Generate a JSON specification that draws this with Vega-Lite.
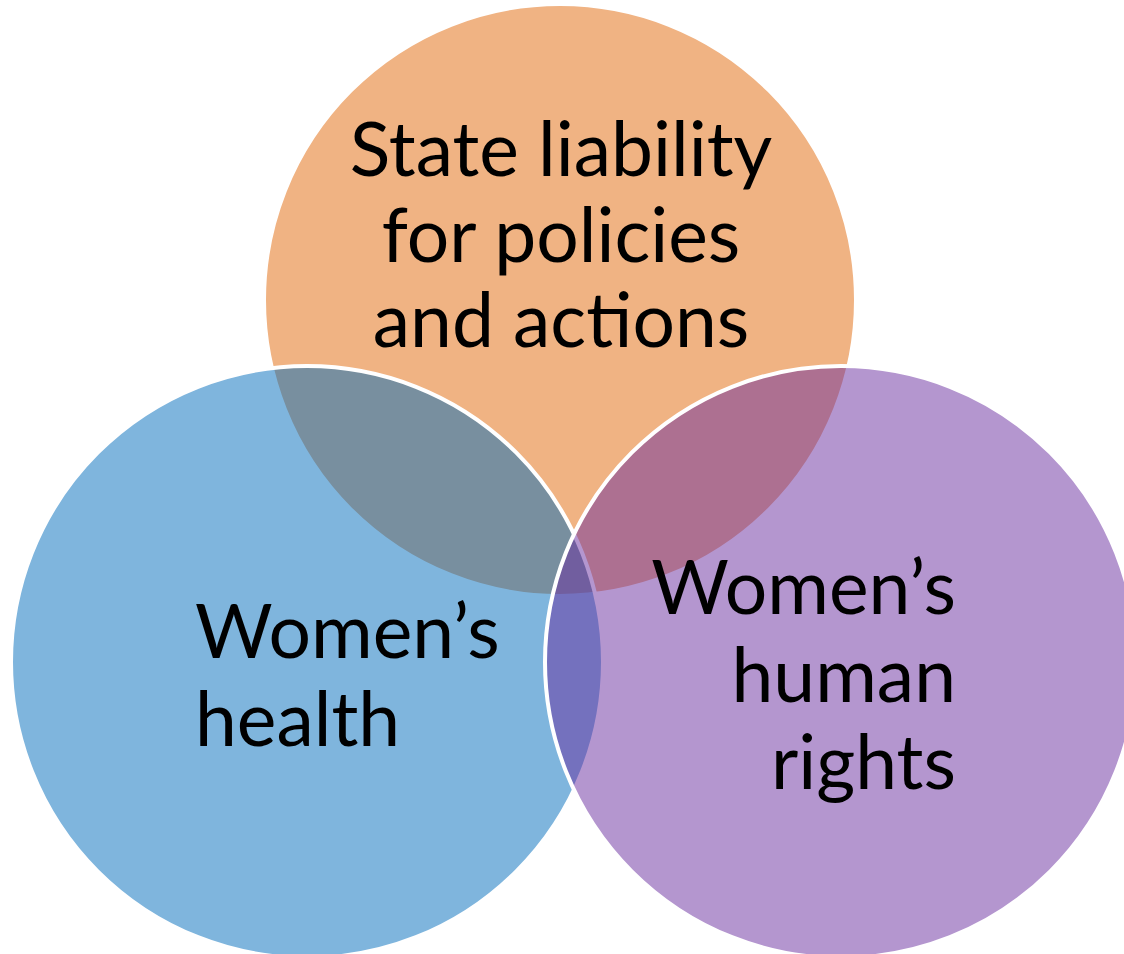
{
  "$schema": "https://vega.github.io/schema/vega-lite/v6.json",
  "width": 1124,
  "height": 954,
  "padding": 0,
  "autosize": {"type": "none"},
  "background": "white",
  "config": {"view": {"stroke": null}},
  "datasets": {
    "circles": [
      {"set": "State liability", "cx": 560, "cy": 300},
      {"set": "Women's health", "cx": 307, "cy": 662},
      {"set": "Women's human rights", "cx": 841, "cy": 662}
    ],
    "labels": [
      {"text": "State liability", "x": 561, "y": 176, "anchor": "center"},
      {"text": "for policies", "x": 561, "y": 262, "anchor": "center"},
      {"text": "and actions", "x": 561, "y": 347, "anchor": "center"},
      {"text": "Women’s", "x": 195, "y": 658, "anchor": "left"},
      {"text": "health", "x": 195, "y": 746, "anchor": "left"},
      {"text": "Women’s", "x": 956, "y": 614, "anchor": "right"},
      {"text": "human", "x": 956, "y": 702, "anchor": "right"},
      {"text": "rights", "x": 956, "y": 789, "anchor": "right"}
    ]
  },
  "layer": [
    {
      "data": {"name": "circles"},
      "mark": {"type": "point", "shape": "circle", "filled": true, "size": 350464, "opacity": 1, "fillOpacity": 0.5, "stroke": "white", "strokeOpacity": 1, "strokeWidth": 4},
      "encoding": {
        "x": {"field": "cx", "type": "quantitative", "scale": {"domain": [0, 1124], "nice": false, "zero": false}, "axis": null},
        "y": {"field": "cy", "type": "quantitative", "scale": {"domain": [0, 954], "nice": false, "zero": false, "reverse": true}, "axis": null},
        "color": {"field": "set", "type": "nominal", "scale": {"domain": ["State liability", "Women's health", "Women's human rights"], "range": ["#E16707", "#006BBB", "#692D9F"]}, "legend": null}
      }
    },
    {
      "data": {"name": "labels"},
      "transform": [{"filter": "datum.anchor === 'center'"}],
      "mark": {"type": "text", "align": "center", "baseline": "alphabetic", "font": "Lato", "fontSize": 75, "color": "black"},
      "encoding": {
        "x": {"field": "x", "type": "quantitative", "scale": {"domain": [0, 1124], "nice": false, "zero": false}, "axis": null},
        "y": {"field": "y", "type": "quantitative", "scale": {"domain": [0, 954], "nice": false, "zero": false, "reverse": true}, "axis": null},
        "text": {"field": "text"}
      }
    },
    {
      "data": {"name": "labels"},
      "transform": [{"filter": "datum.anchor === 'left'"}],
      "mark": {"type": "text", "align": "left", "baseline": "alphabetic", "font": "Lato", "fontSize": 75, "color": "black"},
      "encoding": {
        "x": {"field": "x", "type": "quantitative", "scale": {"domain": [0, 1124], "nice": false, "zero": false}, "axis": null},
        "y": {"field": "y", "type": "quantitative", "scale": {"domain": [0, 954], "nice": false, "zero": false, "reverse": true}, "axis": null},
        "text": {"field": "text"}
      }
    },
    {
      "data": {"name": "labels"},
      "transform": [{"filter": "datum.anchor === 'right'"}],
      "mark": {"type": "text", "align": "right", "baseline": "alphabetic", "font": "Lato", "fontSize": 75, "color": "black"},
      "encoding": {
        "x": {"field": "x", "type": "quantitative", "scale": {"domain": [0, 1124], "nice": false, "zero": false}, "axis": null},
        "y": {"field": "y", "type": "quantitative", "scale": {"domain": [0, 954], "nice": false, "zero": false, "reverse": true}, "axis": null},
        "text": {"field": "text"}
      }
    }
  ]
}
